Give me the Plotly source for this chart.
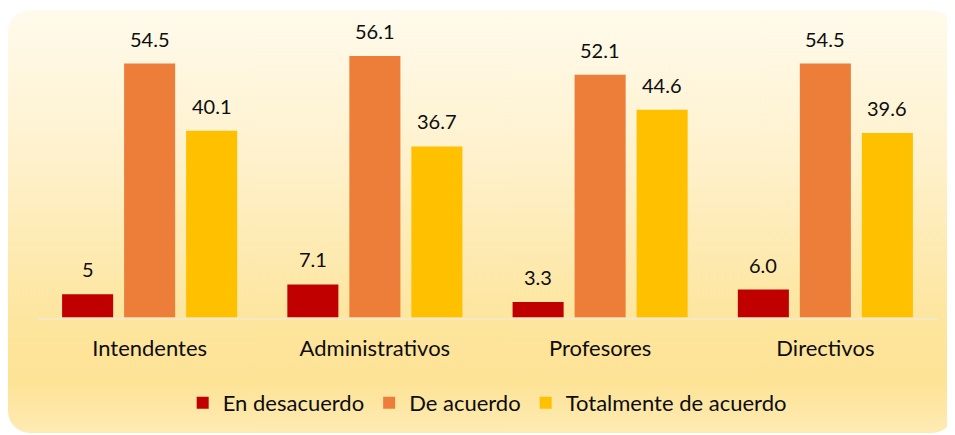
import base64
import plotly.graph_objects as go

# ---------------- data ----------------
categories = ["Intendentes", "Administrativos", "Profesores", "Directivos"]
series_names = ["En desacuerdo", "De acuerdo", "Totalmente de acuerdo"]
en_desacuerdo = [5, 7.1, 3.3, 6.0]
de_acuerdo = [54.5, 56.1, 52.1, 54.5]
totalmente = [40.1, 36.7, 44.6, 39.6]
label_en_desacuerdo = ["5", "7.1", "3.3", "6.0"]
label_de_acuerdo = ["54.5", "56.1", "52.1", "54.5"]
label_totalmente = ["40.1", "36.7", "44.6", "39.6"]

series_values = [en_desacuerdo, de_acuerdo, totalmente]
series_labels = [label_en_desacuerdo, label_de_acuerdo, label_totalmente]
colors = ["#C00000", "#EC7E3A", "#FFC000"]

# ---------------- layout constants ----------------
# page body has an 8px margin, so the figure is 8px smaller than the window
W, H = 947, 427
x_dom = [29 / W, 930 / W]
y_dom = [(H - 309.5) / H, (H - 22) / H]
y_max = 61.7
bargap = 0.174
bargroupgap = 0.177
FONT = "Lato, 'Open Sans', sans-serif"
TXT = "#0D0D0D"

plot_w_px = (x_dom[1] - x_dom[0]) * W
slot_px = plot_w_px / len(categories) * (1 - bargap) / len(series_names)

# gradient rounded-rectangle background as an SVG image
svg = f"""<svg xmlns='http://www.w3.org/2000/svg' width='{W}' height='{H}' viewBox='0 0 {W} {H}' preserveAspectRatio='none'>
<defs><linearGradient id='g' x1='0' y1='0' x2='0' y2='1'>
<stop offset='0' stop-color='#FFFAEC'/>
<stop offset='0.35' stop-color='#FEF1CC'/>
<stop offset='0.74' stop-color='#FDE59D'/>
<stop offset='0.88' stop-color='#FDE396'/>
<stop offset='1' stop-color='#FEEBB4'/>
</linearGradient></defs>
<rect x='0' y='2' width='946' height='423' rx='22' ry='22' fill='url(#g)'/>
</svg>"""
svg_uri = "data:image/svg+xml;base64," + base64.b64encode(svg.encode()).decode()

fig = go.Figure()
for name, vals, col in zip(series_names, series_values, colors):
    fig.add_trace(go.Bar(x=categories, y=vals, name=name, marker_color=col,
                         marker_line_width=0))

annotations = []
for i, (vals, labs) in enumerate(zip(series_values, series_labels)):
    for cat, v, lab in zip(categories, vals, labs):
        annotations.append(dict(x=cat, y=v, text=lab, showarrow=False,
                                xref="x", yref="y", yanchor="middle",
                                xshift=(i - 1) * slot_px, yshift=25,
                                font=dict(family=FONT, size=20, color=TXT)))

fig.update_layout(
    width=W, height=H,
    margin=dict(l=0, r=0, t=0, b=0),
    paper_bgcolor="white",
    plot_bgcolor="rgba(0,0,0,0)",
    barmode="group",
    bargap=bargap,
    bargroupgap=bargroupgap,
    font=dict(family=FONT, size=22, color=TXT),
    images=[dict(source=svg_uri, xref="paper", yref="paper", x=0, y=1,
                 sizex=1, sizey=1, sizing="stretch", xanchor="left",
                 yanchor="top", layer="below")],
    annotations=annotations,
    legend=dict(orientation="h", x=0.506, xanchor="center", y=(H - 395) / H,
                yanchor="middle", bgcolor="rgba(0,0,0,0)",
                font=dict(family=FONT, size=22, color=TXT)),
    xaxis=dict(domain=x_dom, showline=True, linecolor="#F5E8C4", linewidth=2,
               ticks="outside", ticklen=10, tickcolor="rgba(0,0,0,0)",
               showgrid=False, automargin=False,
               tickfont=dict(family=FONT, size=22, color=TXT)),
    yaxis=dict(domain=y_dom, range=[0, y_max], showticklabels=False,
               showgrid=False, zeroline=False, showline=False,
               automargin=False),
)

fig.write_html("out.html")
